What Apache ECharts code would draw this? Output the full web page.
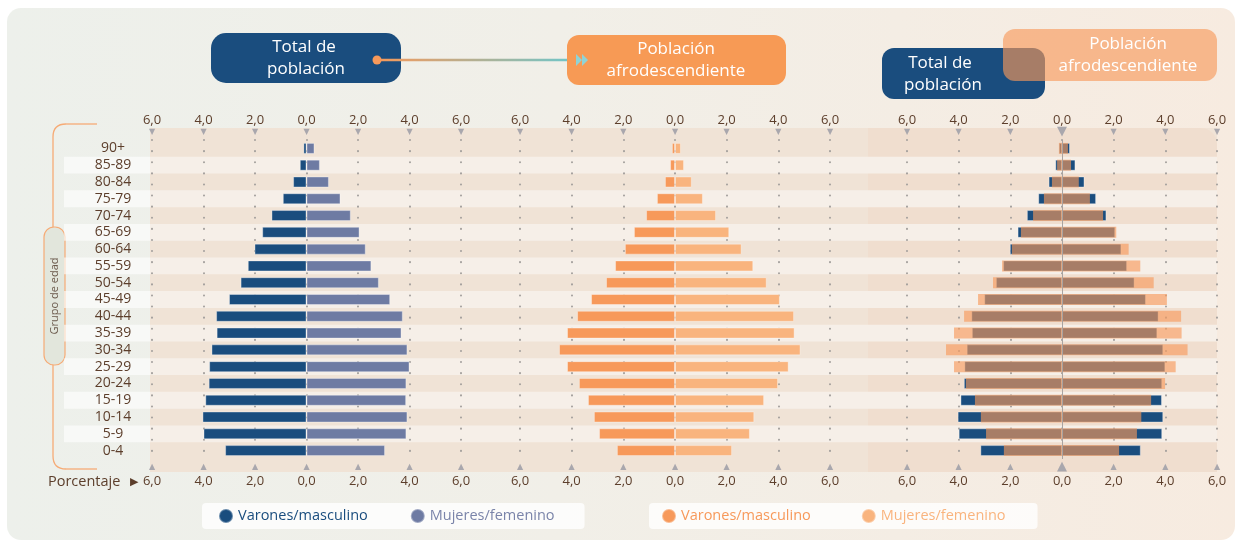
<!DOCTYPE html>
<html>
<head>
<meta charset="utf-8">
<script src="https://cdn.jsdelivr.net/npm/echarts@6/dist/echarts.min.js"></script>
<style>
  html, body { margin: 0; padding: 0; background: #fff; }
  #bg {
    position: absolute; left: 7px; top: 8px; width: 1228px; height: 532px;
    border-radius: 14px;
    background: linear-gradient(90deg, #edf0eb 0%, #f1efe8 45%, #f7ebe0 100%);
  }
  #chart { position: absolute; left: 0; top: 0; width: 1243px; height: 544px; }
</style>
</head>
<body>
<div id="bg"></div>
<div id="chart"></div>
<script>
// grupos de edad, de abajo hacia arriba
const ages = ["0-4", "5-9", "10-14", "15-19", "20-24", "25-29", "30-34", "35-39", "40-44",
  "45-49", "50-54", "55-59", "60-64", "65-69", "70-74", "75-79", "80-84", "85-89", "90+"];

// total de población (%)
const totalVarones = [3.16, 4.00, 4.04, 3.93, 3.80, 3.78, 3.69, 3.49, 3.51, 3.01, 2.56, 2.28, 2.02, 1.72, 1.36, 0.92, 0.52, 0.26, 0.12];
const totalMujeres = [3.05, 3.88, 3.92, 3.87, 3.88, 4.00, 3.92, 3.69, 3.74, 3.25, 2.81, 2.52, 2.30, 2.06, 1.72, 1.32, 0.87, 0.52, 0.31];

// población afrodescendiente (%)
const afroVarones = [2.25, 2.94, 3.14, 3.37, 3.72, 4.18, 4.49, 4.18, 3.79, 3.25, 2.67, 2.32, 1.94, 1.59, 1.12, 0.70, 0.39, 0.19, 0.12];
const afroMujeres = [2.21, 2.90, 3.07, 3.45, 3.99, 4.40, 4.86, 4.63, 4.61, 4.06, 3.55, 3.03, 2.58, 2.10, 1.59, 1.08, 0.65, 0.35, 0.23];

const ticks = { min: -6, max: 6, interval: 2 };

const FONT = "Open Sans";
const BROWN = "#5c3e2b";
const BLUE = "#1a4d7e";
const SLATE = "#6e7ba3";
const ORANGE = "#f7995a";
const LORANGE = "#f9b47e";

function pct(v) {
  return Math.abs(v).toFixed(1).replace(".", ",");
}

function topAxis(grid, big) {
  return {
    gridIndex: grid, type: "value", position: "top", z: 2,
    min: ticks.min, max: ticks.max, interval: ticks.interval,
    axisLine: { show: false }, axisTick: { show: false },
    axisLabel: {
      margin: 3,
      formatter: v => "{n|" + pct(v) + "}\n{" + (big && v === 0 ? "tb" : "t") + "|▼}",
      rich: {
        n: { fontSize: 13, color: BROWN, lineHeight: 14, fontFamily: FONT },
        t: { fontSize: 8, color: "#a9a7ad", lineHeight: 10, fontFamily: "DejaVu Sans" },
        tb: { fontSize: 13, color: "#a9a7ad", lineHeight: 10, fontFamily: "DejaVu Sans" }
      }
    },
    splitLine: { show: true, lineStyle: { color: "#a39f9c", width: 2, type: [0.1, 11], cap: "round" } }
  };
}

function bottomAxis(grid, big) {
  return {
    gridIndex: grid, type: "value", position: "bottom", z: 2,
    min: ticks.min, max: ticks.max, interval: ticks.interval,
    axisLine: { show: false }, axisTick: { show: false }, splitLine: { show: false },
    axisLabel: {
      margin: 3,
      formatter: v => "{" + (big && v === 0 ? "tb" : "t") + "|▲}\n{n|" + pct(v) + "}",
      rich: {
        n: { fontSize: 13, color: BROWN, lineHeight: 18, fontFamily: FONT },
        t: { fontSize: 8, color: "#a9a7ad", lineHeight: 10, fontFamily: "DejaVu Sans" },
        tb: { fontSize: 13, color: "#a9a7ad", lineHeight: 10, fontFamily: "DejaVu Sans" }
      }
    }
  };
}

function catAxis(grid, extra) {
  return Object.assign({
    gridIndex: grid, type: "category", data: ages,
    axisLine: { show: false }, axisTick: { show: false }, axisLabel: { show: false }
  }, extra || {});
}

function bar(name, x, y, stack, data, color, opacity) {
  return {
    type: "bar", name: name, xAxisIndex: x, yAxisIndex: y, stack: stack,
    data: data, barWidth: 11, barGap: "-100%", silent: true,
    itemStyle: {
      color: color, opacity: opacity == null ? 1 : opacity,
      borderColor: "rgba(255,255,255,0.35)", borderWidth: opacity == null ? 1 : 0
    }
  };
}

const neg = arr => arr.map(v => -v);

const TOP = 140, H = 319;
const BRACKET = "#f6ab76";
const HEAD = "17px 'Open Sans'";

const option = {
  animation: false,
  textStyle: { fontFamily: FONT },
  grid: [
    { left: 150, top: 128, width: 1067, height: 344, show: true, backgroundColor: "#f0e3d6", borderWidth: 0, z: 0 },
    { left: 150, top: TOP, width: 1067, height: H },
    { left: 64, top: TOP, width: 86, height: H },
    { left: 152, top: TOP, width: 309, height: H },
    { left: 520, top: TOP, width: 310, height: H },
    { left: 907, top: TOP, width: 310, height: H }
  ],
  xAxis: [
    { gridIndex: 0, type: "value", show: false, min: 0, max: 1 },
    { gridIndex: 1, type: "value", show: false, min: 0, max: 1 },
    { gridIndex: 2, type: "value", show: false, min: 0, max: 1 },
    topAxis(3, false), bottomAxis(3, false),
    topAxis(4, false), bottomAxis(4, false),
    topAxis(5, true), bottomAxis(5, true)
  ],
  yAxis: [
    { gridIndex: 0, type: "category", show: false, data: ages },
    catAxis(1, { z: 1, splitArea: { show: true, areaStyle: { color: ["rgba(0,0,0,0)", "#f6efe8"] } } }),
    catAxis(2, { z: 1, splitArea: { show: true, areaStyle: { color: ["rgba(0,0,0,0)", "rgba(255,255,255,0.6)"] } } }),
    catAxis(3, { z: 2, axisLabel: { show: true, interval: 0, align: "center", margin: 39, color: BROWN, fontSize: 14, fontFamily: FONT } }),
    catAxis(4, { z: 2 }),
    catAxis(5, { z: 2 })
  ],
  legend: [
    {
      left: 202, top: 503, icon: "circle", itemWidth: 14, itemHeight: 18, itemGap: 42,
      selectedMode: false, backgroundColor: "rgba(255,255,255,0.8)", borderRadius: 4,
      padding: [5, 30, 5, 16],
      textStyle: { fontSize: 14.5, fontFamily: FONT },
      formatter: n => (n === "tv" ? "Varones/masculino" : "Mujeres/femenino"),
      data: [
        { name: "tv", textStyle: { color: BLUE } },
        { name: "tm", textStyle: { color: "#7a84a9" } }
      ]
    },
    {
      left: 649, top: 503, icon: "circle", itemWidth: 14, itemHeight: 18, itemGap: 50,
      selectedMode: false, backgroundColor: "rgba(255,255,255,0.8)", borderRadius: 4,
      padding: [5, 32, 5, 12],
      textStyle: { fontSize: 14.5, fontFamily: FONT },
      formatter: n => (n === "av" ? "Varones/masculino" : "Mujeres/femenino"),
      data: [
        { name: "av", textStyle: { color: ORANGE } },
        { name: "am", textStyle: { color: LORANGE } }
      ]
    }
  ],
  series: [
    bar("tv", 3, 3, "a", neg(totalVarones), BLUE),
    bar("tm", 3, 3, "a", totalMujeres, SLATE),
    bar("av", 5, 4, "b", neg(afroVarones), ORANGE),
    bar("am", 5, 4, "b", afroMujeres, LORANGE),
    bar("cTv", 7, 5, "c1", neg(totalVarones), BLUE),
    bar("cTm", 7, 5, "c1", totalMujeres, BLUE),
    bar("cAv", 7, 5, "c2", neg(afroVarones), ORANGE, 0.64),
    Object.assign(bar("cAm", 7, 5, "c2", afroMujeres, ORANGE, 0.64), {
      markLine: {
        silent: true, symbol: "none", label: { show: false },
        lineStyle: { color: "#a9a3a0", width: 1, type: "solid" },
        data: [{ xAxis: 0 }]
      }
    })
  ],
  graphic: [
    // tinte del panel comparativo
    { type: "rect", z: 1, shape: { x: 868, y: 128, width: 349, height: 344, r: [0, 16, 0, 0] },
      style: { fill: "rgba(250,190,150,0.10)" }, silent: true },
    // llave del eje de edades
    { type: "line", silent: true, shape: { x1: 66, y1: 124, x2: 97, y2: 124 }, style: { stroke: BRACKET, lineWidth: 1.3 } },
    { type: "bezierCurve", silent: true, shape: { x1: 66, y1: 124, cpx1: 53, cpy1: 124, x2: 53, y2: 137 },
      style: { fill: "none", stroke: BRACKET, lineWidth: 1.3 } },
    { type: "line", silent: true, shape: { x1: 53, y1: 137, x2: 53, y2: 456 }, style: { stroke: BRACKET, lineWidth: 1.3 } },
    { type: "bezierCurve", silent: true, shape: { x1: 53, y1: 456, cpx1: 53, cpy1: 469, x2: 66, y2: 469 },
      style: { fill: "none", stroke: BRACKET, lineWidth: 1.3 } },
    { type: "line", silent: true, shape: { x1: 66, y1: 469, x2: 97, y2: 469 }, style: { stroke: BRACKET, lineWidth: 1.3 } },
    { type: "rect", silent: true, shape: { x: 44, y: 227, width: 21, height: 138, r: 10 },
      style: { fill: "#e2e6dc", stroke: BRACKET, lineWidth: 1.2 } },
    { type: "text", silent: true, x: 55, y: 296, rotation: Math.PI / 2,
      style: { text: "Grupo de edad", fill: "#6b5a4c", font: "11px 'Open Sans'", align: "center", verticalAlign: "middle" } },
    { type: "text", silent: true, x: 48, y: 482,
      style: { text: "Porcentaje", fill: BROWN, font: "14.5px 'Open Sans'", verticalAlign: "middle" } },
    { type: "text", silent: true, x: 130, y: 482,
      style: { text: "▶", fill: BROWN, font: "11px 'DejaVu Sans'", verticalAlign: "middle" } },

    // encabezados
    { type: "rect", silent: true, shape: { x: 211, y: 33, width: 190, height: 50, r: 15 }, style: { fill: BLUE } },
    { type: "text", silent: true, x: 304, y: 47,
      style: { text: "Total de", fill: "#fff", font: HEAD, align: "center", verticalAlign: "middle" } },
    { type: "text", silent: true, x: 306, y: 69,
      style: { text: "población", fill: "#fff", font: HEAD, align: "center", verticalAlign: "middle" } },
    { type: "line", silent: true, shape: { x1: 377, y1: 60, x2: 578, y2: 60 },
      style: { lineWidth: 2.5, stroke: new echarts.graphic.LinearGradient(377, 0, 578, 0,
        [{ offset: 0, color: "#f7995a" }, { offset: 1, color: "#6cc7cc" }], true) } },
    { type: "circle", silent: true, shape: { cx: 377, cy: 60, r: 4.5 }, style: { fill: ORANGE } },
    { type: "rect", silent: true, shape: { x: 567, y: 35, width: 219, height: 50, r: 12 }, style: { fill: "#f79a55" } },
    { type: "polygon", silent: true, shape: { points: [[576, 54], [582, 60], [576, 66]] }, style: { fill: "#8fd3d6" } },
    { type: "polygon", silent: true, shape: { points: [[582, 54], [588, 60], [582, 66]] }, style: { fill: "#8fd3d6" } },
    { type: "text", silent: true, x: 676, y: 49,
      style: { text: "Población", fill: "#fff", font: HEAD, align: "center", verticalAlign: "middle" } },
    { type: "text", silent: true, x: 676, y: 71,
      style: { text: "afrodescendiente", fill: "#fff", font: HEAD, align: "center", verticalAlign: "middle" } },

    { type: "rect", silent: true, shape: { x: 882, y: 48, width: 163, height: 51, r: 12 }, style: { fill: BLUE } },
    { type: "text", silent: true, x: 940, y: 63,
      style: { text: "Total de", fill: "#fff", font: HEAD, align: "center", verticalAlign: "middle" } },
    { type: "text", silent: true, x: 943, y: 85,
      style: { text: "población", fill: "#fff", font: HEAD, align: "center", verticalAlign: "middle" } },
    { type: "rect", silent: true, shape: { x: 1003, y: 29, width: 214, height: 52, r: 12 },
      style: { fill: "rgba(247,153,90,0.64)" } },
    { type: "text", silent: true, x: 1128, y: 44,
      style: { text: "Población", fill: "#fff", font: HEAD, align: "center", verticalAlign: "middle" } },
    { type: "text", silent: true, x: 1128, y: 66,
      style: { text: "afrodescendiente", fill: "#fff", font: HEAD, align: "center", verticalAlign: "middle" } }
  ]
};

const chart = echarts.init(document.getElementById("chart"));
chart.setOption(option);
window.addEventListener("resize", () => chart.resize());
</script>
</body>
</html>
